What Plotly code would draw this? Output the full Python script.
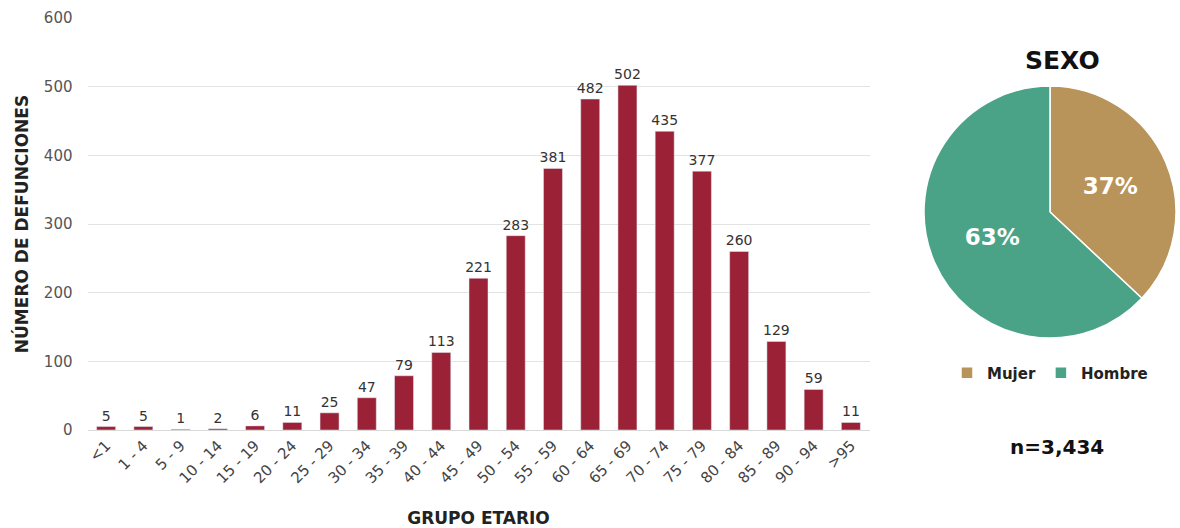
import plotly.graph_objects as go

grupos = ["<1", "1 - 4", "5 - 9", "10 - 14", "15 - 19", "20 - 24", "25 - 29", "30 - 34",
          "35 - 39", "40 - 44", "45 - 49", "50 - 54", "55 - 59", "60 - 64", "65 - 69",
          "70 - 74", "75 - 79", "80 - 84", "85 - 89", "90 - 94", ">95"]
defunciones = [5, 5, 1, 2, 6, 11, 25, 47, 79, 113, 221, 283, 381, 482, 502, 435, 377, 260, 129, 59, 11]

sexo = ["Mujer", "Hombre"]
porcentaje = [37, 63]
sexo_colores = ["#B8935A", "#4BA387"]
total = "n=3,434"

W, H = 1180, 528
FONT = "DejaVu Sans"

fig = go.Figure()
fig.add_trace(go.Bar(
    x=grupos, y=defunciones, marker_color="#9B2236",
    text=defunciones, textposition="outside", cliponaxis=False, constraintext="none",
    textfont=dict(family=FONT, size=14, color="#333"),
    showlegend=False, hoverinfo="x+y",
))
fig.add_trace(go.Pie(
    labels=sexo, values=porcentaje, sort=False, direction="clockwise", rotation=0,
    marker=dict(colors=sexo_colores, line=dict(color="white", width=1.5)),
    texttemplate="<b>%{value}%</b>", textposition="inside",
    insidetextfont=dict(family=FONT, size=23, color="white"),
    domain=dict(x=[924 / W, 1176 / W], y=[1 - 338 / H, 1 - 86 / H]),
    showlegend=True, hoverinfo="label+percent",
))

n = len(grupos)
fig.update_layout(
    width=W, height=H, margin=dict(l=0, r=0, t=0, b=0, autoexpand=False),
    paper_bgcolor="white", plot_bgcolor="white",
    font=dict(family=FONT, color="#333"),
    bargap=0.49,
    xaxis=dict(domain=[87.5 / W, 869.5 / W], tickangle=-45, automargin=False,
               tickfont=dict(family=FONT, size=15, color="#444"),
               showgrid=False, showline=True, linecolor="#d9d9d9", linewidth=1,
               ticks="", range=[-0.5, n - 0.5],
               title=dict(text="<b>GRUPO ETARIO</b>", font=dict(family=FONT, size=17, color="#222"), standoff=25)),
    yaxis=dict(domain=[1 - 430 / H, 1 - 18 / H], range=[0, 600], dtick=100, automargin=False,
               showgrid=True, gridcolor="#e3e3e3", gridwidth=1, zeroline=False,
               tickfont=dict(family=FONT, size=15, color="#555"), ticks="",
               ticklabelstandoff=14,
               title=dict(text="<b>NÚMERO DE DEFUNCIONES</b>", font=dict(family=FONT, size=17, color="#222"), standoff=10)),
    legend=dict(orientation="h", x=1050 / W, xanchor="center", y=1 - 373 / H, yanchor="middle",
                font=dict(family=FONT, size=15, color="#222", weight="bold"),
                bgcolor="rgba(0,0,0,0)"),
    annotations=[
        dict(text="<b>SEXO</b>", x=1062 / W, y=1 - 60 / H, xref="paper", yref="paper",
             xanchor="center", yanchor="middle",
             showarrow=False, font=dict(family=FONT, size=25, color="#111")),
        dict(text="<b>" + total + "</b>", x=1057 / W, y=1 - 447 / H, xref="paper", yref="paper",
             xanchor="center", yanchor="middle",
             showarrow=False, font=dict(family=FONT, size=20, color="#111")),
    ],
)

fig.write_html("out.html")
